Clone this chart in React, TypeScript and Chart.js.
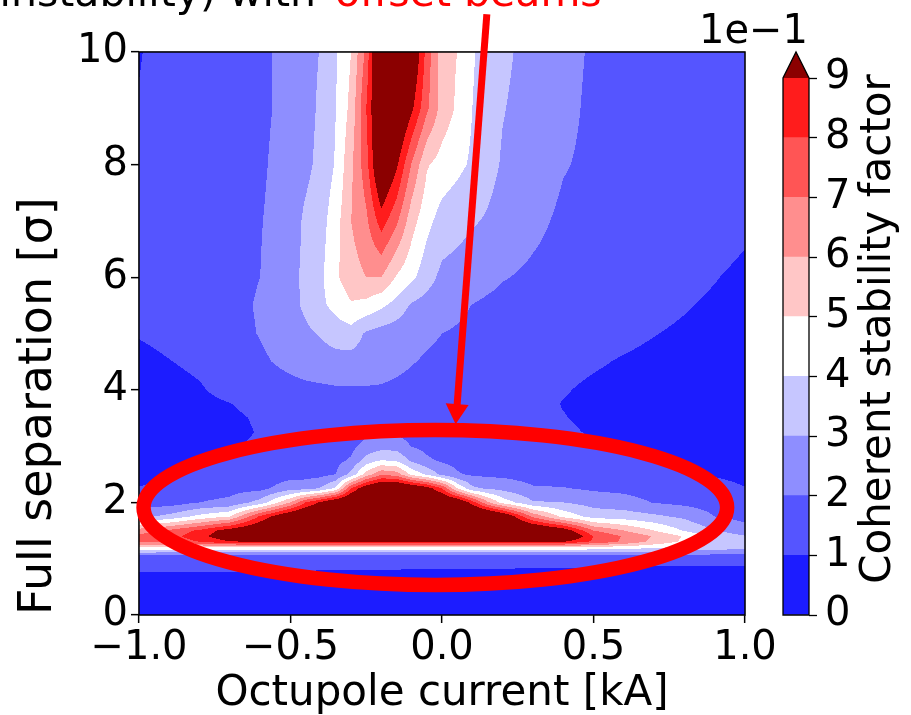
import React, { useEffect, useRef } from "react";
import { Chart, registerables } from "chart.js";

Chart.register(...registerables);

const FONT = '"DejaVu Sans", sans-serif';
Chart.defaults.font.family = FONT;

// ---- grid coordinates ----
const octupoleCurrent = [-1.0, -0.9, -0.8, -0.7, -0.6, -0.5, -0.45, -0.4, -0.35, -0.3, -0.25, -0.2, -0.15, -0.1, -0.05, 0.0, 0.05, 0.1, 0.15, 0.2, 0.3, 0.4, 0.5, 0.6, 0.7, 0.8, 0.9, 1.0];
const separation = [0, 0.6, 0.9, 1.05, 1.2, 1.3, 1.4, 1.5, 1.75, 2.0, 2.25, 2.5, 2.75, 3.0, 3.25, 3.5, 3.75, 4.0, 4.5, 5.0, 5.5, 6.0, 7.0, 8.0, 9.0, 10.0];

// ---- coherent stability factor (x 1e-1), one row per separation ----
const s0_00 = [0.3, 0.3, 0.3, 0.3, 0.3, 0.3, 0.3, 0.3, 0.3, 0.3, 0.3, 0.3, 0.3, 0.3, 0.3, 0.3, 0.3, 0.3, 0.3, 0.3, 0.3, 0.3, 0.3, 0.3, 0.3, 0.3, 0.3, 0.3];
const s0_60 = [0.75, 0.75, 0.75, 0.75, 0.75, 0.75, 0.75, 0.75, 0.75, 0.75, 0.75, 0.75, 0.75, 0.75, 0.75, 0.75, 0.75, 0.75, 0.75, 0.75, 0.75, 0.75, 0.75, 0.75, 0.75, 0.75, 0.75, 0.75];
const s0_90 = [1.19, 1.19, 1.19, 1.19, 1.19, 1.19, 1.19, 1.12, 1.12, 1.12, 1.12, 1.12, 1.12, 1.09, 1.09, 1.09, 1.09, 1.09, 1.09, 1.09, 1.07, 1.07, 1.07, 1.02, 1.02, 1.02, 1.02, 1.02];
const s1_05 = [1.7, 1.7, 1.7, 1.7, 1.7, 1.7, 1.7, 1.7, 1.7, 1.7, 1.7, 1.7, 1.7, 1.7, 1.7, 1.7, 1.7, 1.7, 1.7, 1.7, 1.7, 1.7, 1.7, 1.7, 1.7, 1.7, 1.7, 1.7];
const s1_20 = [5.0, 4.9, 4.9, 4.9, 4.9, 4.9, 4.9, 4.9, 4.9, 4.9, 4.9, 4.9, 4.9, 4.9, 4.9, 4.9, 4.9, 4.9, 4.9, 4.9, 4.9, 4.9, 4.7, 4.5, 4.2, 3.7, 3.5, 3.3];
const s1_30 = [7.0, 7.4, 8.0, 8.9, 9.0, 9.0, 9.0, 9.0, 9.0, 9.0, 9.0, 9.0, 9.0, 9.0, 9.0, 9.0, 9.0, 9.0, 9.0, 9.0, 9.0, 9.0, 7.8, 6.8, 5.7, 4.8, 3.8, 3.6];
const s1_40 = [7.3, 7.6, 8.6, 10, 11, 11, 11, 11, 11, 11, 11, 11, 11, 11, 11, 11, 11, 11, 11, 11, 11, 11, 8.0, 6.9, 5.9, 4.9, 3.7, 3.05];
const s1_50 = [6.5, 7.2, 8.2, 9.6, 10.5, 11, 11, 11, 11, 11.5, 11.5, 12, 12, 12, 12, 12, 12, 12, 12, 11.5, 11, 9.8, 7.0, 6.0, 5.0, 3.9, 3.0, 2.4];
const s1_75 = [2.7, 3.3, 4.3, 5.0, 8.2, 10.5, 11, 11, 11.5, 11.5, 12, 12, 12, 12, 12, 12, 12, 12, 11.5, 10.5, 6.8, 4.7, 3.6, 3.5, 3.2, 2.8, 2.0, 1.7];
const s2_00 = [1.6, 1.5, 2.0, 2.2, 3.4, 6.0, 8.0, 9.2, 10.5, 11, 12, 12, 12, 12, 11.5, 11, 10.5, 8.5, 6.2, 4.6, 3.1, 3.0, 2.6, 2.4, 1.95, 1.75, 1.55, 1.35];
const s2_25 = [1.03, 1.15, 1.6, 1.7, 1.7, 2.6, 2.6, 3.1, 4.2, 8.0, 10.0, 11, 11, 10.5, 9.6, 8.0, 5.0, 3.2, 2.85, 2.7, 2.1, 2.05, 1.85, 1.75, 1.55, 1.35, 1.2, 1.02];
const s2_50 = [0.8, 0.98, 1.25, 1.45, 1.4, 1.6, 1.65, 1.7, 2.0, 3.3, 5.4, 6.8, 6.5, 4.7, 3.8, 2.7, 2.1, 1.85, 1.8, 1.75, 1.6, 1.5, 1.4, 1.35, 1.2, 1.08, 0.95, 0.85];
const s2_75 = [0.65, 0.75, 0.95, 1.2, 1.25, 1.45, 1.55, 1.6, 1.75, 2.1, 3.4, 4.0, 3.8, 2.8, 2.15, 1.85, 1.7, 1.6, 1.55, 1.5, 1.4, 1.3, 1.15, 1.12, 1.02, 0.9, 0.82, 0.75];
const s3_00 = [0.55, 0.6, 0.75, 0.93, 1.12, 1.35, 1.45, 1.55, 1.65, 1.75, 2.3, 2.6, 2.6, 1.95, 1.75, 1.6, 1.5, 1.45, 1.4, 1.38, 1.3, 1.2, 1.03, 0.98, 0.9, 0.8, 0.72, 0.65];
const s3_25 = [0.5, 0.55, 0.65, 0.8, 1.05, 1.35, 1.45, 1.55, 1.65, 1.7, 1.75, 1.8, 1.8, 1.6, 1.55, 1.5, 1.42, 1.38, 1.33, 1.3, 1.22, 1.08, 0.95, 0.85, 0.78, 0.7, 0.65, 0.6];
const s3_50 = [0.5, 0.55, 0.7, 0.85, 1.1, 1.45, 1.55, 1.65, 1.7, 1.75, 1.75, 1.7, 1.65, 1.55, 1.5, 1.45, 1.38, 1.33, 1.28, 1.25, 1.17, 1.02, 0.9, 0.8, 0.72, 0.65, 0.6, 0.55];
const s3_75 = [0.52, 0.62, 0.8, 0.98, 1.25, 1.58, 1.68, 1.75, 1.8, 1.83, 1.83, 1.8, 1.72, 1.62, 1.55, 1.48, 1.39, 1.34, 1.29, 1.25, 1.16, 0.98, 0.9, 0.78, 0.7, 0.62, 0.57, 0.52];
const s4_00 = [0.6, 0.75, 0.93, 1.25, 1.5, 1.7, 1.8, 1.85, 1.9, 1.92, 1.92, 1.9, 1.8, 1.7, 1.6, 1.5, 1.4, 1.35, 1.3, 1.25, 1.15, 1.04, 0.9, 0.8, 0.7, 0.62, 0.55, 0.5];
const s4_50 = [0.8, 0.98, 1.15, 1.4, 1.85, 2.25, 2.4, 2.5, 2.6, 2.6, 2.5, 2.4, 2.25, 2.05, 1.9, 1.8, 1.7, 1.6, 1.5, 1.42, 1.3, 1.18, 1.07, 0.95, 0.85, 0.75, 0.68, 0.6];
const s5_00 = [1.05, 1.2, 1.35, 1.65, 2.05, 2.5, 2.8, 3.1, 3.5, 3.6, 2.85, 2.6, 2.45, 2.3, 2.15, 2.0, 1.9, 1.8, 1.7, 1.6, 1.45, 1.35, 1.25, 1.15, 1.02, 0.9, 0.8, 0.7];
const s5_50 = [1.2, 1.3, 1.45, 1.7, 2.1, 2.65, 3.2, 3.8, 4.3, 4.9, 4.7, 4.2, 3.6, 2.85, 2.6, 2.4, 2.2, 1.98, 1.85, 1.75, 1.6, 1.5, 1.4, 1.3, 1.2, 1.05, 0.9, 0.8];
const s6_00 = [1.25, 1.35, 1.5, 1.7, 2.0, 2.75, 3.2, 3.8, 4.85, 5.6, 6.0, 6.0, 4.9, 4.25, 3.4, 2.75, 2.6, 2.45, 2.25, 2.05, 1.85, 1.7, 1.6, 1.5, 1.4, 1.2, 1.03, 0.85];
const s7_00 = [1.25, 1.35, 1.5, 1.65, 1.95, 2.5, 3.2, 3.6, 4.6, 6.0, 6.8, 8.5, 7.2, 5.4, 4.3, 3.6, 3.35, 3.1, 2.9, 2.6, 2.2, 1.85, 1.7, 1.6, 1.55, 1.45, 1.35, 1.15];
const s8_00 = [1.2, 1.35, 1.5, 1.65, 1.85, 2.45, 2.75, 3.3, 4.1, 5.8, 7.6, 10.8, 9.2, 6.9, 5.1, 4.6, 4.25, 3.85, 3.35, 2.9, 2.5, 2.05, 1.85, 1.7, 1.6, 1.5, 1.45, 1.4];
const s9_00 = [1.05, 1.35, 1.55, 1.7, 1.8, 2.3, 2.6, 3.2, 4.0, 5.3, 8.0, 11, 11, 9.2, 7.2, 5.6, 4.85, 4.0, 3.5, 3.05, 2.6, 2.2, 1.85, 1.7, 1.6, 1.5, 1.45, 1.4];
const s10_00 = [0.95, 1.35, 1.55, 1.7, 1.8, 2.3, 2.65, 3.05, 3.9, 5.0, 7.3, 11.5, 11.5, 10.5, 7.6, 5.4, 5.0, 4.1, 3.6, 3.2, 2.65, 2.25, 1.9, 1.7, 1.6, 1.5, 1.45, 1.4];

const stability = [s0_00, s0_60, s0_90, s1_05, s1_20, s1_30, s1_40, s1_50, s1_75, s2_00, s2_25, s2_50, s2_75, s3_00, s3_25, s3_50, s3_75, s4_00, s4_50, s5_00, s5_50, s6_00, s7_00, s8_00, s9_00, s10_00];

// ---- contour levels / colours ----
const levelBounds = [0, 1, 2, 3, 4, 5, 6, 7, 8, 9];
const levelColors = ["#1c1cff", "#5555ff", "#8e8eff", "#c6c6ff", "#ffffff", "#ffc6c6", "#ff8e8e", "#ff5555", "#ff1c1c"];
const overColor = "#8b0000";

// ---- annotation (data units) ----
const highlight = { x: -0.022, y: 1.91, rx: 0.963, ry: 1.377 };
const arrowFrom = { x: 0.148, y: 10.67 };
const arrowTo = { x: 0.045, y: 3.39 };

function cellIndex(grid: number[], v: number): [number, number] {
  let i = 0;
  while (i < grid.length - 2 && v > grid[i + 1]) i++;
  let t = (v - grid[i]) / (grid[i + 1] - grid[i]);
  if (t < 0) t = 0;
  if (t > 1) t = 1;
  return [i, t];
}

function hexToRgb(h: string): number[] {
  const n = parseInt(h.slice(1), 16);
  return [(n >> 16) & 255, (n >> 8) & 255, n & 255];
}

const contourPlugin = {
  id: "contourFill",
  beforeDatasetsDraw(chart: any) {
    const { ctx, chartArea, scales } = chart;
    const xs = scales.x;
    const ys = scales.y;
    const left = Math.round(chartArea.left);
    const top = Math.round(chartArea.top);
    const w = Math.round(chartArea.right) - left;
    const h = Math.round(chartArea.bottom) - top;
    const img = ctx.createImageData(w, h);
    const cols: [number, number][] = [];
    for (let i = 0; i < w; i++) cols.push(cellIndex(octupoleCurrent, xs.getValueForPixel(left + i + 0.5)));
    const palette = levelColors.map(hexToRgb);
    const over = hexToRgb(overColor);
    const topBound = levelBounds[levelBounds.length - 1];
    for (let j = 0; j < h; j++) {
      const [r, ty] = cellIndex(separation, ys.getValueForPixel(top + j + 0.5));
      const z0 = stability[r];
      const z1 = stability[r + 1];
      for (let i = 0; i < w; i++) {
        const [c, tx] = cols[i];
        const a = z0[c] + (z0[c + 1] - z0[c]) * tx;
        const b = z1[c] + (z1[c + 1] - z1[c]) * tx;
        const v = a + (b - a) * ty;
        let col: number[];
        if (v >= topBound) col = over;
        else {
          let k = 0;
          while (k < levelBounds.length - 2 && v >= levelBounds[k + 1]) k++;
          col = palette[k];
        }
        const p = (j * w + i) * 4;
        img.data[p] = col[0];
        img.data[p + 1] = col[1];
        img.data[p + 2] = col[2];
        img.data[p + 3] = 255;
      }
    }
    ctx.putImageData(img, left, top);
  },
};

const annotationPlugin = {
  id: "annotations",
  afterDraw(chart: any) {
    const { ctx, chartArea: a, scales } = chart;
    const x = scales.x;
    const y = scales.y;
    ctx.save();
    // frame
    ctx.strokeStyle = "#000";
    ctx.lineWidth = 1.5;
    ctx.strokeRect(a.left, a.top, a.right - a.left, a.bottom - a.top);
    // ellipse
    const cx = x.getPixelForValue(highlight.x);
    const cy = y.getPixelForValue(highlight.y);
    const rx = x.getPixelForValue(highlight.x + highlight.rx) - cx;
    const ry = cy - y.getPixelForValue(highlight.y + highlight.ry);
    ctx.beginPath();
    ctx.ellipse(cx, cy, rx, ry, 0, 0, Math.PI * 2);
    ctx.strokeStyle = "#ff0000";
    ctx.lineWidth = 14.5;
    ctx.stroke();
    // arrow
    const x0 = x.getPixelForValue(arrowFrom.x);
    const y0 = y.getPixelForValue(arrowFrom.y);
    const x1 = x.getPixelForValue(arrowTo.x);
    const y1 = y.getPixelForValue(arrowTo.y);
    const len = Math.hypot(x1 - x0, y1 - y0);
    const ux = (x1 - x0) / len;
    const uy = (y1 - y0) / len;
    const headLen = 20;
    const headHalf = 11.5;
    const bx = x1 - ux * headLen;
    const by = y1 - uy * headLen;
    ctx.beginPath();
    ctx.moveTo(x0, y0);
    ctx.lineTo(bx + ux * 2, by + uy * 2);
    ctx.lineWidth = 7;
    ctx.strokeStyle = "#ff0000";
    ctx.stroke();
    ctx.beginPath();
    ctx.moveTo(x1, y1);
    ctx.lineTo(bx - uy * headHalf, by + ux * headHalf);
    ctx.lineTo(bx + uy * headHalf, by - ux * headHalf);
    ctx.closePath();
    ctx.fillStyle = "#ff0000";
    ctx.fill();
    // clipped title line
    ctx.font = `41px ${FONT}`;
    ctx.textBaseline = "alphabetic";
    ctx.fillStyle = "#000";
    ctx.textAlign = "right";
    ctx.fillText("instability) with", 316, 6);
    ctx.fillStyle = "#ff0000";
    ctx.textAlign = "left";
    ctx.fillText("offset beams", 335, 6);
    ctx.restore();
  },
};

const colorbarPlugin = {
  id: "colorbarExtras",
  afterDatasetsDraw(chart: any) {
    const { ctx, chartArea: a, scales } = chart;
    const y = scales.y;
    const top = y.getPixelForValue(levelBounds[levelBounds.length - 1]);
    const bottom = y.getPixelForValue(levelBounds[0]);
    const apexY = top - 26;
    const cx = (a.left + a.right) / 2;
    ctx.save();
    ctx.beginPath();
    ctx.moveTo(a.left, top);
    ctx.lineTo(cx, apexY);
    ctx.lineTo(a.right, top);
    ctx.closePath();
    ctx.fillStyle = overColor;
    ctx.fill();
    ctx.beginPath();
    ctx.moveTo(a.left, bottom);
    ctx.lineTo(a.left, top);
    ctx.lineTo(cx, apexY);
    ctx.lineTo(a.right, top);
    ctx.lineTo(a.right, bottom);
    ctx.closePath();
    ctx.lineWidth = 1.3;
    ctx.strokeStyle = "#000";
    ctx.stroke();
    // offset text
    ctx.font = `40px ${FONT}`;
    ctx.fillStyle = "#000";
    ctx.textAlign = "right";
    ctx.textBaseline = "alphabetic";
    ctx.fillText("1e\u22121", a.right - 1, 43);
    // colorbar label
    ctx.font = `42px ${FONT}`;
    ctx.translate(a.right + 81, 329);
    ctx.rotate(-Math.PI / 2);
    ctx.textAlign = "center";
    ctx.fillText("Coherent stability factor", 0, 0);
    ctx.restore();
  },
};

const fmtX = (v: number) => (v < 0 ? "\u2212" : "") + Math.abs(v).toFixed(1);

export default function App() {
  const mainRef = useRef<HTMLCanvasElement>(null);
  const cbRef = useRef<HTMLCanvasElement>(null);

  useEffect(() => {
    const gridOpts = {
      color: "#b0b0b0",
      lineWidth: 1.3,
      drawTicks: true,
      tickLength: 8,
      tickColor: "#000",
      tickWidth: 1.5,
    };
    const main = new Chart(mainRef.current as HTMLCanvasElement, {
      type: "scatter",
      data: { datasets: [] },
      options: {
        responsive: false,
        animation: false,
        devicePixelRatio: 1,
        layout: { padding: { left: 0, top: 52, right: 166, bottom: 0 } },
        plugins: { legend: { display: false }, tooltip: { enabled: false } },
        scales: {
          x: {
            type: "linear",
            min: -1,
            max: 1,
            z: 1,
            ticks: {
              stepSize: 0.5,
              autoSkip: false,
              maxRotation: 0,
              padding: 2,
              color: "#000",
              font: { size: 40 },
              callback: (v: any) => fmtX(Number(v)),
            },
            grid: gridOpts,
            border: { display: false },
            title: {
              display: true,
              text: "Octupole current [kA]",
              color: "#000",
              font: { size: 42, lineHeight: 1 },
              padding: 0,
            },
            afterFit: (s: any) => {
              s.height = 100;
            },
          },
          y: {
            type: "linear",
            min: 0,
            max: 10,
            z: 1,
            ticks: {
              stepSize: 2,
              autoSkip: false,
              padding: 3,
              color: "#000",
              font: { size: 40 },
            },
            grid: gridOpts,
            border: { display: false },
            title: {
              display: true,
              text: "Full separation [\u03c3]",
              align: "start",
              color: "#000",
              font: { size: 46, lineHeight: 1 },
              padding: { top: 16, bottom: 0 },
            },
            afterFit: (s: any) => {
              s.width = 139;
            },
          },
        },
      } as any,
      plugins: [contourPlugin, annotationPlugin],
    });

    const cb = new Chart(cbRef.current as HTMLCanvasElement, {
      type: "bar",
      data: {
        labels: [""],
        datasets: levelColors.map((c, i) => ({
          label: `${levelBounds[i]}-${levelBounds[i + 1]}`,
          data: [levelBounds[i + 1] - levelBounds[i]],
          backgroundColor: c,
          borderWidth: 0,
          barPercentage: 1,
          categoryPercentage: 1,
          stack: "cb",
        })),
      },
      options: {
        responsive: false,
        animation: false,
        devicePixelRatio: 1,
        layout: { padding: { left: 103, top: 78, right: 0, bottom: 100 } },
        plugins: { legend: { display: false }, tooltip: { enabled: false } },
        scales: {
          x: { display: false, stacked: true },
          y: {
            stacked: true,
            position: "right",
            min: 0,
            max: 9,
            ticks: { stepSize: 1, autoSkip: false, padding: 8, color: "#000", font: { size: 40 } },
            grid: { drawOnChartArea: false, drawTicks: true, tickLength: 8, tickColor: "#000", tickWidth: 1.3 },
            border: { display: false },
            afterFit: (s: any) => {
              s.width = 102;
            },
          },
        },
      } as any,
      plugins: [colorbarPlugin],
    });

    return () => {
      main.destroy();
      cb.destroy();
    };
  }, []);

  return (
    <div style={{ position: "absolute", left: 0, top: 0, width: 911, height: 715, background: "#fff", overflow: "hidden" }}>
      <canvas ref={mainRef} width={911} height={715} style={{ position: "absolute", left: 0, top: 0, width: 911, height: 715 }} />
      <canvas ref={cbRef} width={231} height={715} style={{ position: "absolute", left: 680, top: 0, width: 231, height: 715 }} />
    </div>
  );
}
